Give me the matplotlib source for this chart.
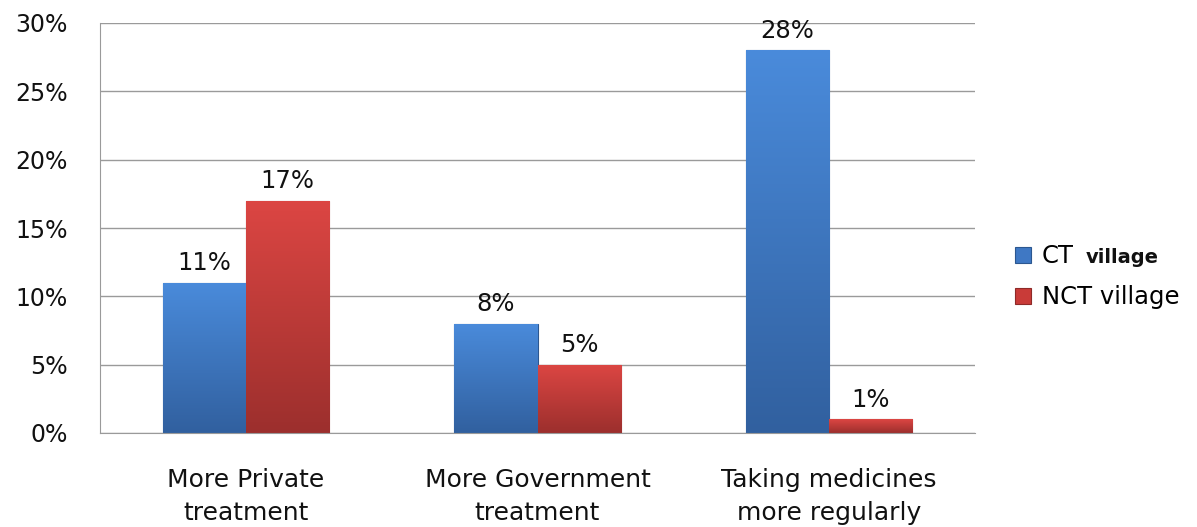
import numpy as np
import matplotlib.pyplot as plt
import matplotlib.colors as mcolors
from matplotlib.ticker import MultipleLocator, FuncFormatter

categories = ["More Private\ntreatment", "More Government\ntreatment", "Taking medicines\nmore regularly"]
ct_village = [11, 8, 28]
nct_village = [17, 5, 1]
series_names = ["CT", "NCT village"]


def gradient_fill(ax, bar, top, bottom):
    # vertical gradient, light at the top, dark at the base
    x0, y0 = bar.get_x(), bar.get_y()
    w, h = bar.get_width(), bar.get_height()
    cmap = mcolors.LinearSegmentedColormap.from_list("g", [bottom, top])
    grad = np.linspace(0, 1, 256).reshape(-1, 1)
    im = ax.imshow(grad, cmap=cmap, aspect="auto", origin="lower",
                   extent=(x0, x0 + w, y0, y0 + h), zorder=bar.get_zorder() + 0.1)
    im.set_clip_path(bar)


plt.rcParams["font.family"] = ["DejaVu Sans"]
fig = plt.figure(figsize=(11.97, 5.27), dpi=100)
ax = fig.add_axes([100 / 1197, 1 - 433 / 527, 875 / 1197, 410 / 527])

x = np.arange(len(categories))
w = 0.285
b1 = ax.bar(x - w / 2, ct_village, w, color="#3f78c4", edgecolor="#2c5790",
            linewidth=0.8, zorder=2, label=series_names[0])
b2 = ax.bar(x + w / 2, nct_village, w, color="#c93b38", edgecolor="#8e2a28",
            linewidth=0.8, zorder=2, label=series_names[1])

for bar in b1:
    gradient_fill(ax, bar, "#4a8bdb", "#31609f")
for bar in b2:
    gradient_fill(ax, bar, "#dc4643", "#9c2f2d")

for bars, vals in ((b1, ct_village), (b2, nct_village)):
    for bar, v in zip(bars, vals):
        ax.text(bar.get_x() + bar.get_width() / 2, v + 0.55, f"{v}%",
                ha="center", va="bottom", fontsize=17.5, color="#111111", zorder=4)

ax.set_xlim(-0.5, 2.5)
ax.set_ylim(0, 30)
ax.yaxis.set_major_locator(MultipleLocator(5))
ax.yaxis.set_major_formatter(FuncFormatter(lambda v, p: f"{v:.0f}%"))
ax.grid(axis="y", color="#9a9a9a", linewidth=1.0, zorder=0)
ax.set_axisbelow(True)
for side in ("top", "right"):
    ax.spines[side].set_visible(False)
ax.spines["left"].set_color("#9a9a9a")
ax.spines["bottom"].set_color("#9a9a9a")
ax.tick_params(axis="y", length=0, labelsize=17, pad=23, colors="#111111")
ax.tick_params(axis="x", length=0, labelsize=18, pad=25, colors="#111111")
ax.set_xticks(x)
ax.set_xticklabels(categories, linespacing=1.5)

leg = fig.legend(handles=[b1, b2], loc="upper left", bbox_to_anchor=(1003 / 1197, 1 - 232 / 527),
                 frameon=False, fontsize=17.5, handlelength=0.65, handleheight=0.65,
                 handletextpad=0.45, labelspacing=0.7, borderpad=0)

fig.canvas.draw()
t = leg.get_texts()[0]
bb = t.get_window_extent()
fig.text((bb.x1 + 12) / 1197, (bb.y0 + 1) / 527, "village", fontsize=14,
         fontweight="bold", color="#111111", ha="left", va="bottom")

fig.savefig("out.png", dpi=100)
